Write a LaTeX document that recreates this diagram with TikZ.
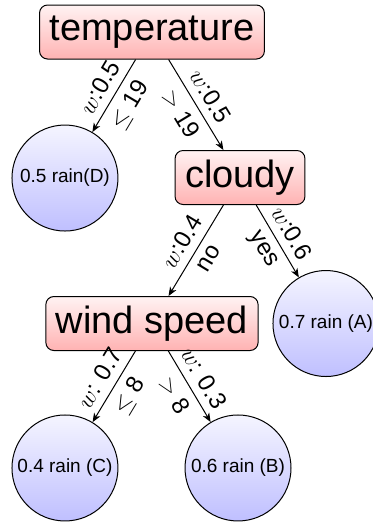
\documentclass[tikz,border=0pt]{standalone}
\usepackage{fontspec}
\setmainfont{Liberation Sans}
\usepackage{tikz}
\usetikzlibrary{arrows.meta}
\usepackage{amsmath}
\begin{document}
\begin{tikzpicture}[->,>={Stealth[length=4.5pt,width=3.6pt,inset=1.3pt]},line width=0.5pt,
		attr/.style={draw,rounded corners=4pt,top color=red!5,bottom color=red!30,font=\fontsize{19}{22}\selectfont,inner xsep=5pt,minimum height=27pt},
		leaf/.style={draw,circle,top color=blue!4,bottom color=blue!25,font=\fontsize{9.5}{11}\selectfont,minimum size=53pt,inner sep=0pt},
		wt/.style={above,sloped,inner sep=4pt,font=\fontsize{12}{14}\selectfont},
		cond/.style={below,sloped,inner sep=4pt,font=\fontsize{12}{14}\selectfont}]
			\useasboundingbox(0,0)rectangle(6.538,9.227);
			\node[attr](temperature)at(2.671,8.664){temperature};
			\node[attr](cloudy)at(4.218,6.107){cloudy};
			\node[attr](windspeed)at(2.671,3.541){wind speed};
			\node[leaf](rainD)at(1.142,6.098){0.5 rain(D)};
			\node[leaf](rainA)at(5.729,3.541){0.7 rain (A)};
			\node[leaf](rainC)at(1.142,1.002){0.4 rain (C)};
			\node[leaf](rainB)at(4.183,1.002){0.6 rain (B)};
			\draw(temperature)edge node[wt]{$w$:0.5}node[cond]{$\leq$ 19}(rainD);
			\draw(temperature)edge node[wt]{$w$:0.5}node[cond]{$>$ 19}(cloudy);
			\draw(cloudy)edge node[wt]{$w$:0.4}node[cond]{no}(windspeed);
			\draw(cloudy)edge node[wt]{$w$:0.6}node[cond]{yes}(rainA);
			\draw(windspeed)edge node[wt]{$w$: 0.7}node[cond]{$\leq$ 8}(rainC);
			\draw(windspeed)edge node[wt]{$w$: 0.3}node[cond]{$>$ 8}(rainB);
		\end{tikzpicture}
\end{document}
